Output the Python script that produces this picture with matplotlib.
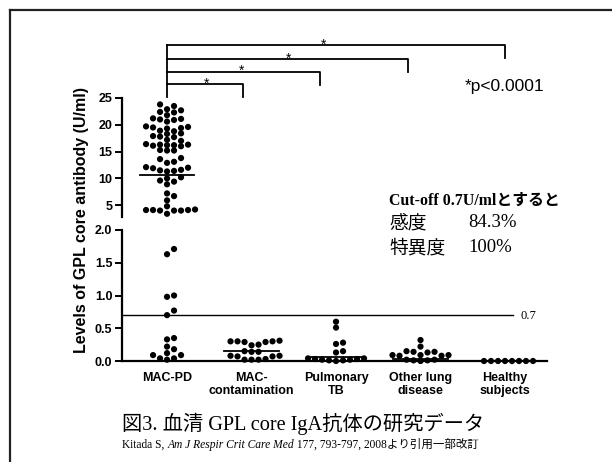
import matplotlib
matplotlib.use("Agg")
import matplotlib.pyplot as plt
from matplotlib.lines import Line2D
import numpy as np


W, H = 612, 462
SANS = "Liberation Sans"
SERIF_JP = ["Liberation Serif", "Noto Sans CJK JP"]

CATEGORIES = ["MAC-PD", "MAC-\ncontamination", "Pulmonary\nTB", "Other lung\ndisease", "Healthy\nsubjects"]

mac_pd = [23.8, 23.5, 22.9, 22.7, 22.4, 22.3, 21.8, 21.2, 21.1, 21.0, 20.9, 20.6,
          19.7, 19.6, 19.5, 19.4, 19.3, 18.9, 18.8, 18.4, 18.3, 17.9, 17.8, 17.7,
          17.2, 17.0, 16.4, 16.3, 16.3, 16.2, 16.2, 16.1, 16.0, 15.3, 15.2, 15.2,
          13.8, 13.6, 13.1, 12.9, 12.1, 12.0, 11.9, 11.6, 11.5, 11.4, 11.3,
          10.2, 10.0, 9.6, 9.4, 8.9, 7.2, 6.7, 5.9, 4.8,
          4.2, 4.1, 4.1, 4.1, 4.0, 4.0, 4.0, 3.4,
          1.71, 1.63, 1.00, 0.98, 0.77, 0.70, 0.35, 0.33, 0.22, 0.18, 0.12,
          0.09, 0.09, 0.04, 0.04, 0.02]
mac_contam = [0.31, 0.30, 0.30, 0.30, 0.29, 0.29, 0.25, 0.24, 0.15, 0.14, 0.14,
              0.08, 0.08, 0.07, 0.07, 0.03, 0.02, 0.02, 0.02]
pulm_tb = [0.60, 0.51, 0.28, 0.26, 0.15, 0.13, 0.04, 0.04, 0.03, 0.03,
           0.02, 0.02, 0.01, 0.01, 0.00]
other_lung = [0.32, 0.22, 0.15, 0.14, 0.14, 0.13, 0.09, 0.09, 0.09, 0.08, 0.08,
              0.02, 0.02, 0.01, 0.01, 0.00]
healthy = [0.0, 0.0, 0.0, 0.0, 0.0, 0.0, 0.0, 0.0]
GROUPS = [mac_pd, mac_contam, pulm_tb, other_lung, healthy]
MEDIANS = [10.7, 0.16, 0.06, 0.03, 0.0]

CUTOFF = 0.7
UPPER_TICKS = [5, 10, 15, 20, 25]
LOWER_TICKS = [0.0, 0.5, 1.0, 1.5, 2.0]

# significance brackets: right end (category position) and height (upper-axis units)
BRACKET_ENDS = [4.0, 2.85, 1.81, 0.9]
BRACKET_Y = [34.9, 32.3, 29.9, 27.6]
STAR_X = [1.85, 1.44, 0.88, 0.47]

DOT_PX = 7.0


def fx(x):
    return x / W


def fy(y):
    return 1 - y / H


def swarm_x(ax, x0, values, d=DOT_PX, overlap=0.75):
    pts = ax.transData.transform(np.column_stack([np.full(len(values), x0), values]))
    ys = pts[:, 1]
    xscale = ax.transData.transform([[1, 0]])[0, 0] - ax.transData.transform([[0, 0]])[0, 0]
    offsets = np.zeros(len(values))
    placed = []
    lim = (overlap * d) ** 2
    for i in np.argsort(ys):
        y = ys[i]
        k = 0
        chosen = None
        while chosen is None:
            cands = [0.0] if k == 0 else [k * d, -k * d]
            for c in cands:
                if all((c - px) ** 2 + (y - py) ** 2 >= lim for px, py in placed):
                    chosen = c
                    break
            k += 1
        placed.append((chosen, y))
        offsets[i] = chosen
    return x0 + offsets / xscale


fig = plt.figure(figsize=(W / 100, H / 100), dpi=100)

left, right = 122, 547
xlim = (-0.533, 4.497)
ax_lo = fig.add_axes([fx(left), fy(361), (right - left) / W, (361 - 230) / H])
ax_hi = fig.add_axes([fx(left), fy(217), (right - left) / W, (217 - 98) / H])
ax_lo.set_xlim(*xlim)
ax_hi.set_xlim(*xlim)
ax_lo.set_ylim(0, 2.0)
ax_hi.set_ylim(2.8, 25)

for ax in (ax_lo, ax_hi):
    ax.set_facecolor("none")
    for s in ("top", "right"):
        ax.spines[s].set_visible(False)
    ax.spines["left"].set_linewidth(1.6)
    ax.spines["bottom"].set_linewidth(1.6)
    ax.tick_params(axis="y", direction="out", length=5, width=1.4, pad=2)
ax_hi.spines["bottom"].set_visible(False)
ax_hi.set_xticks([])
ax_hi.set_yticks(UPPER_TICKS)
ax_hi.set_yticklabels([str(t) for t in UPPER_TICKS], fontfamily=SANS, fontweight="bold", fontsize=9)
ax_lo.set_yticks(LOWER_TICKS)
ax_lo.set_yticklabels([f"{t:.1f}" for t in LOWER_TICKS], fontfamily=SANS, fontweight="bold", fontsize=9)
ax_lo.set_xticks(range(len(CATEGORIES)))
ax_lo.set_xticklabels(CATEGORIES, fontfamily=SANS, fontweight="bold", fontsize=9, linespacing=1.05)
ax_lo.tick_params(axis="x", length=0, pad=8)

# dots
for i, vals in enumerate(GROUPS):
    vals = np.asarray(vals, dtype=float)
    for ax, part in ((ax_hi, vals[vals > 2.0]), (ax_lo, vals[vals <= 2.0])):
        if len(part):
            xs = swarm_x(ax, i, part)
            ax.scatter(xs, part, s=20, color="black", edgecolors="none", clip_on=False, zorder=3)
    med = MEDIANS[i]
    ax = ax_hi if med > 2.0 else ax_lo
    ax.plot([i - 0.32, i + 0.32], [med, med], color="black", lw=1.3, clip_on=False, zorder=4)

# cut-off line
ax_lo.plot([xlim[0], 4.09], [CUTOFF, CUTOFF], color="black", lw=1.0, clip_on=False)
ax_lo.text(4.18, CUTOFF - 0.02, "0.7", family="Liberation Serif", fontsize=9, va="center", ha="left")

# significance brackets
tick = 2.4
ax_hi.plot([0, 0], [BRACKET_Y[0], 25.2], color="black", lw=1.3, clip_on=False)
for xe, yb, xs in zip(BRACKET_ENDS, BRACKET_Y, STAR_X):
    ax_hi.plot([0, xe, xe], [yb, yb, yb - tick], color="black", lw=1.3, clip_on=False)
    ax_hi.text(xs, yb + 0.1, "*", ha="center", va="center", family=SANS, fontsize=10)

fig.text(fx(465), fy(87), "*p<0.0001", family=SANS, fontsize=12.5, ha="left", va="center")

fig.text(fx(82), fy(220), "Levels of GPL core antibody (U/ml)", rotation=90, family=SANS,
         fontweight="bold", fontsize=11.5, ha="center", va="center")

fig.text(fx(389), fy(201), "Cut-off 0.7U/mlとすると", family=SERIF_JP, fontweight="bold",
         fontsize=11.4, ha="left", va="center")
fig.text(fx(389), fy(223), "感度", family=["Noto Sans CJK JP"], fontsize=13.5, ha="left", va="center")
fig.text(fx(468), fy(223), "84.3%", family="Liberation Serif", fontsize=13.5, ha="left", va="center")
fig.text(fx(389), fy(248), "特異度", family=["Noto Sans CJK JP"], fontsize=13.5, ha="left", va="center")
fig.text(fx(468), fy(248), "100%", family="Liberation Serif", fontsize=13.5, ha="left", va="center")

fig.text(fx(122), fy(424), "図3. 血清 GPL core IgA抗体の研究データ", family=SERIF_JP,
         fontsize=14.6, ha="left", va="center")

# citation line, journal name in italics
renderer = fig.canvas.get_renderer()
x = fx(122)
for txt, style in [("Kitada S, ", "normal"), ("Am J Respir Crit Care Med", "italic"),
                   (" 177, 793-797, 2008より引用一部改訂", "normal")]:
    t = fig.text(x, fy(445), txt, family=SERIF_JP, style=style, fontsize=8.3, ha="left", va="center")
    x += t.get_window_extent(renderer=renderer).width / W

# page frame (left and top edges)
fig.add_artist(Line2D([fx(10), fx(10)], [0, fy(10)], color="#222222", lw=1.6))
fig.add_artist(Line2D([fx(10), 1], [fy(10), fy(10)], color="#222222", lw=1.6))

fig.savefig("out.png", dpi=100)
